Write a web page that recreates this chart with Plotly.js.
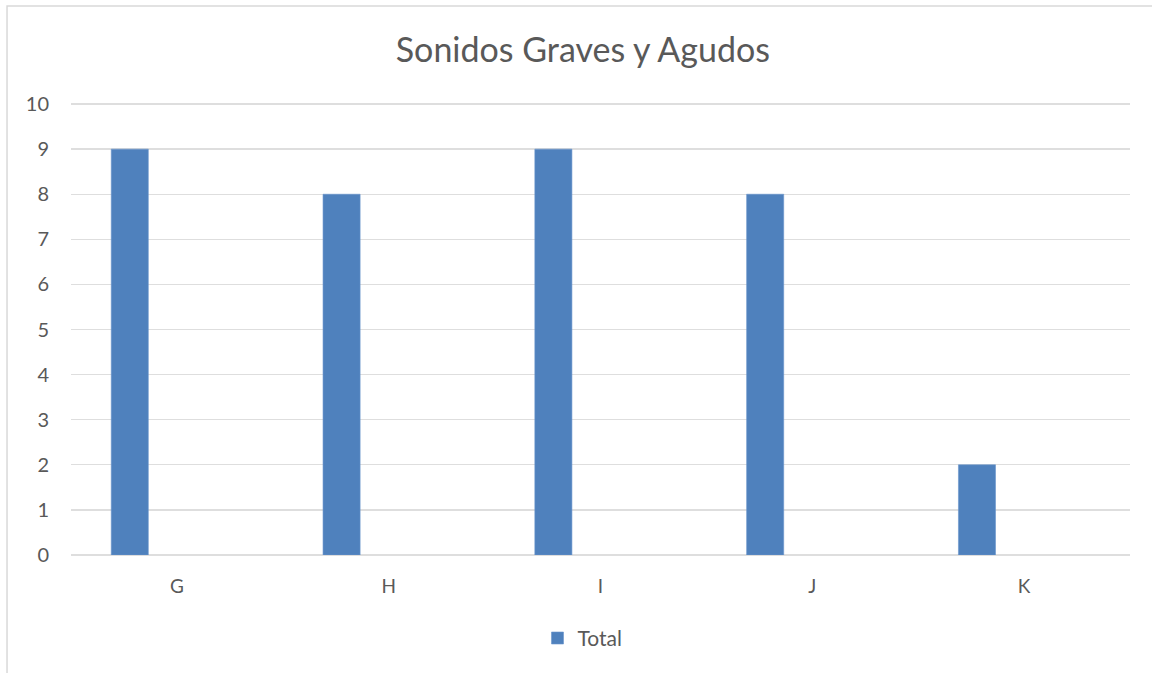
<!DOCTYPE html>
<html>
<head>
<meta charset="utf-8">
<script src="https://cdn.plot.ly/plotly-3.0.1.min.js"></script>
<style>html,body{margin:0;padding:0;background:#fff;}#chart{width:1152px;height:673px;}</style>
</head>
<body>
<div id="chart"></div>
<script>
const categories = ["G", "H", "I", "J", "K"];
const totals = [9, 8, 9, 8, 2];
const seriesName = "Total";
const chartTitle = "Sonidos Graves y Agudos";
const yTicks = [0, 1, 2, 3, 4, 5, 6, 7, 8, 9, 10];

const fontFam = "Lato, 'Open Sans', sans-serif";
const trace = {
  type: "bar",
  x: categories,
  y: totals,
  name: seriesName,
  offset: -0.31,
  width: 0.175,
  marker: {color: "#4f81bd", line: {color: "#6a96cc", width: 0.6}},
  showlegend: true
};

// plot area: y=0 at 555px, y=10 at ~104px
const layout = {
  width: 1152, height: 673,
  margin: {l: 71, r: 22, t: 102, b: 118},
  paper_bgcolor: "#ffffff", plot_bgcolor: "#ffffff",
  title: {text: chartTitle, x: 0.506, xanchor: "center", y: 0.925, yanchor: "middle",
          font: {family: fontFam, size: 34, color: "#595959"}},
  font: {family: fontFam, color: "#595959"},
  xaxis: {type: "category", showgrid: false, zeroline: false, showline: false, ticks: "",
          tickfont: {size: 19, color: "#595959"}, ticklabelstandoff: 18, automargin: false, range: [-0.5, 4.5]},
  yaxis: {range: [0, 10.045], tickvals: yTicks, showgrid: true, gridcolor: "#dedede", gridwidth: 1.3,
          zeroline: true, zerolinecolor: "#dedede", zerolinewidth: 1.3, showline: false,
          tickfont: {size: 20, color: "#595959"}, ticks: "", ticklabelstandoff: 21, automargin: false},
  showlegend: true,
  legend: {orientation: "h", x: 0.483, xanchor: "center", y: -0.184, yanchor: "middle",
           font: {size: 21, color: "#595959"}, itemwidth: 30},
  shapes: [{type: "rect", xref: "paper", yref: "paper", x0: -0.0604, x1: 1.05, y0: -0.3, y1: 1.212,
            line: {color: "#d9d9d9", width: 1.5}, fillcolor: "rgba(0,0,0,0)", layer: "below"}],
  bargap: 0
};

Plotly.newPlot("chart", [trace], layout, {displayModeBar: false, staticPlot: true});
</script>
</body>
</html>
